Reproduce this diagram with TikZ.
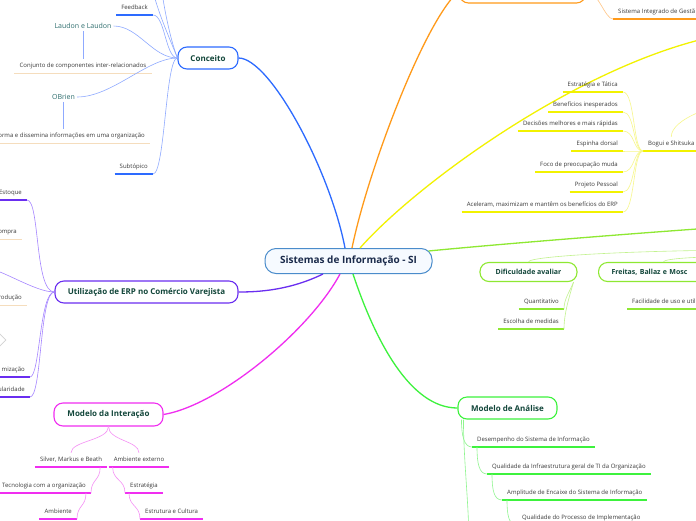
\documentclass[tikz,border=0pt]{standalone}
\usepackage{fontspec}
\setmainfont{Open Sans}
\usepackage{tikz}
\usetikzlibrary{shapes.geometric,positioning,calc}
\usepackage{xcolor}

\definecolor{blueC}{HTML}{2D6BFF}
\definecolor{blueL}{HTML}{8FAAFF}
\definecolor{orangeC}{HTML}{FF9A1A}
\definecolor{orangeL}{HTML}{FFC585}
\definecolor{yellowC}{HTML}{F2F200}
\definecolor{yellowL}{HTML}{F7F78A}
\definecolor{limeC}{HTML}{8EE832}
\definecolor{limeL}{HTML}{C2F28E}
\definecolor{greenC}{HTML}{3DF23D}
\definecolor{greenL}{HTML}{8FF58F}
\definecolor{magC}{HTML}{F02EF0}
\definecolor{magL}{HTML}{F590F5}
\definecolor{purpC}{HTML}{6A2EF0}
\definecolor{purpL}{HTML}{A585FF}
\definecolor{beige}{HTML}{F5DDBD}
\definecolor{rootB}{HTML}{4A8CCB}
\definecolor{rootF}{HTML}{F6FAFF}
\definecolor{rootT}{HTML}{1B2B4B}
\definecolor{nodeT}{HTML}{12463A}
\definecolor{leafT}{HTML}{3A3A3A}
\definecolor{authT}{HTML}{2E6E6E}

\begin{document}
\begin{tikzpicture}[x=1pt,y=-1pt,
    topic/.style={draw=#1, line width=1.1pt, rounded corners=9pt, fill=white, text=nodeT,
        font=\bfseries\fontsize{8}{9}\selectfont, minimum height=22pt, inner sep=0pt},
    smalltopic/.style={topic=#1, minimum height=19pt, font=\bfseries\fontsize{7}{8}\selectfont},
    leaf/.style={text=leafT, font=\fontsize{6}{7}\selectfont, inner xsep=5pt, inner ysep=4pt,
        text height=4.4pt, text depth=1.4pt},
    author/.style={text=authT, font=\fontsize{7}{8}\selectfont, inner sep=2pt},
    branch/.style={draw=#1, line width=1.3pt},
    link/.style={draw=#1, line width=0.6pt},
    uline/.style={draw=#1, line width=1.3pt}]

    % Frame
    \fill[white] (0,0) rectangle (696,520);
    \useasboundingbox (0,0) rectangle (696,520);

    % Central topic
    \node[draw=rootB, line width=1pt, rounded corners=11pt, fill=rootF, text=rootT,
        font=\bfseries\fontsize{10}{12}\selectfont, minimum width=167pt, minimum height=25pt]
        (si) at (348.5,261) {Sistemas de Informação - SI};

    % Main topics
    \node[topic=blueC, minimum width=60pt] (con) at (208,58) {Conceito};
    \node[topic=purpC, minimum width=183pt] (utl) at (146.5,292) {Utilização de ERP no Comércio Varejista};
    \node[topic=magC, minimum width=109pt, minimum height=23pt] (itr) at (108.5,414.5) {Modelo da Interação};
    \node[topic=greenC, minimum width=99pt] (ana) at (507.5,408) {Modelo de Análise};
    \node[smalltopic=limeC, minimum width=97pt] (dif) at (528.5,272) {Dificuldade avaliar};
    \node[smalltopic=limeC, anchor=west, text width=104pt, align=left, inner xsep=13pt]
        (fre) at (598,272) {Freitas, Ballaz e Mosc};
    \node[topic=orangeC, minimum width=126pt, minimum height=24pt] (org) at (522.5,-9) {};

    % Ends outside the frame
    \coordinate (yelP) at (740,32);
    \coordinate (limP) at (740,226);
    \coordinate (limA) at (760,250);
    \coordinate (limB) at (770,256);
    \coordinate (bsP) at (735,104);
    \coordinate (upA) at (160,-30);
    \coordinate (upB) at (150,-30);
    \coordinate (purOff) at (-15,268);
    \coordinate (anaDown) at (469,545);

    % Branches from the centre
    \draw[branch=blueC] ([xshift=-3.5pt]si.north) .. controls (330,170) and (270,58) .. (con.east);
    \draw[branch=orangeC] ([xshift=3.5pt]si.north) .. controls (368,170) and (425,20) .. (org.west);
    \draw[branch=yellowC] ([xshift=11.5pt]si.north) .. controls (420,180) and (600,50) .. (yelP);
    \draw[branch=limeC] ([xshift=-4pt,yshift=-3pt]si.north east) .. controls (500,244) and (650,232) .. (limP);
    \draw[branch=greenC] ([xshift=4.5pt]si.south) .. controls (375,340) and (410,408) .. (ana.west);
    \draw[branch=magC] ([xshift=-8.5pt]si.south) .. controls (310,330) and (220,405) .. (itr.east);
    \draw[branch=purpC] ([xshift=-25.5pt]si.south) .. controls (290,290) and (260,292) .. (utl.east);

    % Conceito
    \node[leaf, anchor=south east] (fb) at (153,15) {Feedback};
    \node[author] (lau) at (83,26) {Laudon e Laudon};
    \node[leaf, anchor=south] (cjt) at (83,73) {Conjunto de componentes inter-relacionados};
    \node[author] (obr) at (63.5,97) {OBrien};
    \node[leaf, anchor=south east] (dis) at (150,143) {orma e dissemina informações em uma organização};
    \node[leaf, anchor=south east] (sub) at (153,174) {Subtópico};
    \draw[uline=blueC] (fb.south west) -- (fb.south east);
    \draw[uline=blueC] (sub.south west) -- (sub.south east);
    \draw[uline=beige, line width=1pt] (cjt.south west) -- (cjt.south east);
    \draw[uline=beige, line width=1pt] (dis.south west) -- (dis.south east);
    \draw[link=blueL] (con.west) .. controls +(-12,0) and +(12,0) .. (fb.south east);
    \draw[link=blueL] (con.west) .. controls +(-25,0) and +(25,0) .. (lau.east);
    \draw[link=blueL] (con.west) .. controls +(-30,0) and +(35,0) .. (obr.east);
    \draw[link=blueL] (con.west) .. controls +(-12,0) and +(12,0) .. (sub.south east);
    \draw[link=blueL] (con.west) .. controls +(-8,-20) and +(0,20) .. (upA);
    \draw[link=blueL] (con.west) .. controls +(-10,-25) and +(0,25) .. (upB);
    \draw[link=blueL] (lau.south) -- (cjt.north);
    \draw[link=blueL] (obr.south) -- (obr.south |- dis.north);

    % Utilizacao de ERP
    \node[leaf, anchor=south east] (etq) at (27,200) {Estoque};
    \node[leaf, anchor=south east] (cmp) at (22,239) {ompra};
    \node[leaf, anchor=south east] (prd) at (27,305) {rodução};
    \node[diamond, draw=gray!35, line width=0.6pt, minimum size=24pt] (dia) at (-6,340) {};
    \node[leaf, anchor=south east] (miz) at (30,377) {mização};
    \node[leaf, anchor=south east] (ula) at (30,397) {ularidade};
    \foreach \n in {etq,miz,ula}
        \draw[uline=purpC] (\n.south west) -- (\n.south east);
    \foreach \n in {cmp,prd}
        \draw[uline=beige, line width=1pt] (\n.south west) -- (\n.south east);
    \draw[link=purpL] (utl.west) .. controls +(-20,0) and +(13,0) .. (etq.south east);
    \draw[link=purpL] (utl.west) .. controls +(-20,0) and +(15,0) .. (purOff);
    \draw[link=purpL] (utl.west) .. controls +(-15,0) and +(10,0) .. (miz.south east);
    \draw[link=purpL] (utl.west) .. controls +(-15,0) and +(12,0) .. (ula.south east);

    % Modelo da Interacao
    \node[leaf, anchor=south] (sil) at (71,467) {Silver, Markus e Beath};
    \node[leaf, anchor=south] (ame) at (139,467) {Ambiente externo};
    \node[leaf, anchor=south east] (tec) at (91,493) {Tecnologia com a organização};
    \node[leaf, anchor=south east] (amb) at (77,519) {Ambiente};
    \node[leaf, anchor=south west] (etg) at (125,493) {Estratégia};
    \node[leaf, anchor=south west] (euc) at (140,519) {Estrutura e Cultura};
    \foreach \n in {sil,ame,tec,amb,etg,euc}
        \draw[uline=magC] (\n.south west) -- (\n.south east);
    \draw[link=magL] (itr.south) .. controls +(0,14) and +(0,-12) .. (sil.north);
    \draw[link=magL] (itr.south) .. controls +(0,14) and +(0,-12) .. (ame.north);
    \draw[link=magL] ([xshift=-7pt]sil.south east) .. controls +(0,14) and +(0,-14) .. (tec.south east);
    \draw[link=magL] ([xshift=-5pt]tec.south east) .. controls +(0,14) and +(0,-14) .. (amb.south east);
    \draw[link=magL] ([xshift=4pt]ame.south west) .. controls +(0,14) and +(0,-14) .. (etg.south west);
    \draw[link=magL] ([xshift=4pt]etg.south west) .. controls +(0,14) and +(0,-14) .. (euc.south west);

    % Modelo de Analise
    \node[leaf, anchor=south west] (des) at (472,447) {Desempenho do Sistema de Informação};
    \node[leaf, anchor=south west] (inf) at (487,474) {Qualidade da Infraestrutura geral de TI da Organização};
    \node[leaf, anchor=south west] (amp) at (502,500) {Amplitude de Encaixe do Sistema de Informação};
    \node[leaf, anchor=south west] (qpi) at (517,525) {Qualidade do Processo de Implementação};
    \foreach \n in {des,inf,amp,qpi}
        \draw[uline=greenC] (\n.south west) -- (\n.south east);
    \draw[link=greenL] ([xshift=4pt]ana.south west) .. controls +(0,16) and +(-8,0) .. (des.south west);
    \draw[link=greenL] ([xshift=5pt]des.south west) .. controls +(0,16) and +(-8,0) .. (inf.south west);
    \draw[link=greenL] ([xshift=5pt]inf.south west) .. controls +(0,16) and +(-8,0) .. (amp.south west);
    \draw[link=greenL] ([xshift=5pt]amp.south west) .. controls +(0,16) and +(-8,0) .. (qpi.south west);
    \draw[link=greenL] ([xshift=6pt]ana.south west) .. controls +(0,40) and +(0,-40) .. (anaDown);

    % Dificuldade avaliar / Freitas
    \node[leaf, anchor=south east] (qnt) at (564,309) {Quantitativo};
    \node[leaf, anchor=south east] (esm) at (564,329) {Escolha de medidas};
    \node[leaf, anchor=south west] (fac) at (627,309) {Facilidade de uso e utili};
    \foreach \n in {qnt,esm,fac}
        \draw[uline=limeC] (\n.south west) -- (\n.south east);
    \draw[link=limeL] ([xshift=-4pt]dif.south east) .. controls +(-4,10) and +(0,-10) .. (qnt.south east);
    \draw[link=limeL] ([xshift=-4pt]dif.south east) .. controls +(-4,14) and +(0,-16) .. (esm.south east);
    \draw[link=limeL] (dif.north) .. controls +(0,-6) and +(-120,0) .. (limA);
    \draw[link=limeL] (fre.north) .. controls +(0,-4) and +(-60,0) .. (limB);

    % Bogui e Shitsuka
    \node[leaf, anchor=south west] (bgs) at (643,151) {Bogui e Shitsuka};
    \draw[uline=yellowC] (bgs.south west) -- (bgs.south east);
    \draw[link=yellowL] (bgs.north) .. controls +(0,-18) and +(-20,0) .. (bsP);
    \foreach \txt/\yy [count=\i] in {Estratégia e Tática/92, Benefícios inesperados/112,
        Decisões melhores e mais rápidas/131, Espinha dorsal/151, Foco de preocupação muda/172,
        Projeto Pessoal/192, {Aceleram, maximizam e mantêm os benefícios do ERP}/212} {
        \node[leaf, anchor=south east] (bs\i) at (623,\yy) {\txt};
        \draw[uline=yellowC] (bs\i.south west) -- (bs\i.south east);
        \draw[link=yellowL] (bs\i.south east) .. controls +(12,0) and +(-10,0) .. (bgs.south west);
    }

    % Sistema Integrado
    \node[leaf, anchor=south west] (sig) at (613,19) {Sistema Integrado de Gestã};
    \draw[uline=orangeC] (sig.south west) -- (sig.south east);
    \draw[link=orangeL] (org.east) .. controls +(12,0) and +(-8,0) .. (sig.south west);
\end{tikzpicture}
\end{document}
